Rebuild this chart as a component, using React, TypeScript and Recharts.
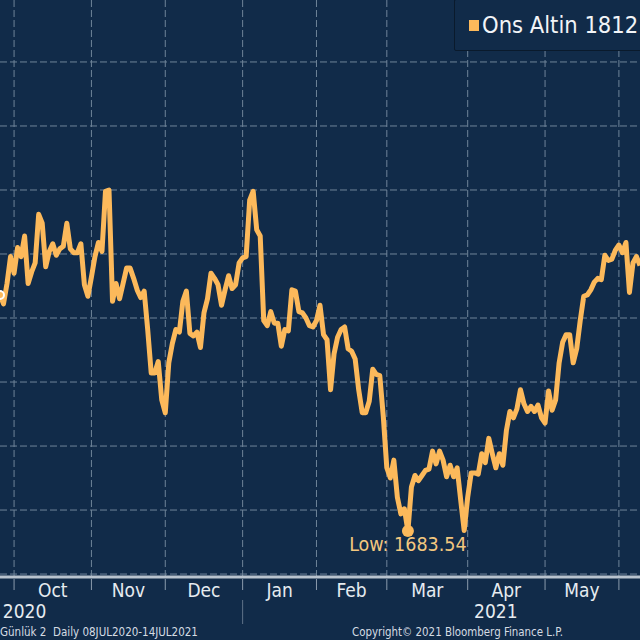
import { LineChart, Line, XAxis, YAxis, CartesianGrid, Legend, ReferenceDot } from "recharts";

const BG = "#112b49";
const GOLD = "#fcb95b";
const FONT = "'DejaVu Sans Condensed', 'DejaVu Sans', sans-serif";

// daily close (first visible day is late Sep 2020)
const prices = [
    1868, 1861, 1877, 1898, 1885, 1905, 1898, 1914, 1877, 1886, 1893, 1931, 1924, 1890, 1902, 1908,
    1899, 1904, 1906, 1924, 1904, 1901, 1901, 1908, 1876, 1867, 1882, 1898, 1909, 1902, 1949, 1950,
    1863, 1877, 1865, 1877, 1889, 1889, 1881, 1872, 1866, 1871, 1841, 1807, 1807, 1816, 1786, 1776,
    1815, 1830, 1841, 1839, 1863, 1871, 1838, 1836, 1839, 1827, 1854, 1865, 1885, 1881, 1876, 1860,
    1872, 1883, 1873, 1876, 1893, 1897, 1898, 1942, 1949, 1919, 1914, 1848, 1844, 1855, 1846, 1846,
    1828, 1841, 1840, 1872, 1871, 1855, 1854, 1850, 1844, 1843, 1848, 1860, 1837, 1833, 1794, 1822,
    1835, 1841, 1843, 1826, 1824, 1818, 1794, 1776, 1776, 1785, 1810, 1806, 1805, 1773, 1733, 1725,
    1739, 1710, 1697, 1701, 1683.54, 1718, 1727, 1723, 1727, 1731, 1732, 1746, 1736, 1746, 1739, 1726,
    1735, 1726, 1733, 1708, 1684, 1710, 1729, 1729, 1728, 1744, 1737, 1756, 1744, 1733, 1744, 1735,
    1762, 1777, 1772, 1779, 1794, 1783, 1777, 1781, 1777, 1782, 1772, 1768, 1793, 1778, 1786, 1815,
    1831, 1837, 1837, 1815, 1826, 1848, 1867, 1868, 1872, 1878, 1881, 1880, 1899, 1895, 1896, 1903,
    1907, 1901, 1909, 1870, 1893, 1898, 1891,
];

const months = ["Oct", "Nov", "Dec", "Jan", "Feb", "Mar", "Apr", "May"];
// trading day index of the first day of each month
const monthStarts = [4, 26, 47, 69, 90, 110, 133, 155, 176];
const priceTicks = [1650, 1700, 1750, 1800, 1850, 1900, 1950, 2000, 2050];
const lowIndex = 116;
const lowValue = 1683.54;
const yearBreak = 69;
const yearLabels: Record<number, string> = { 7: "2020", 141: "2021" };

const data = prices.map((price, day) => ({ day, price }));
const monthLabels: Record<number, string> = {};
months.forEach((m, i) => {
    monthLabels[(monthStarts[i] + monthStarts[i + 1]) / 2] = m;
});
const monthTicks = [...monthStarts, ...Object.keys(monthLabels).map(Number)].sort((a, b) => a - b);

function MonthTick({ x, y, payload }: any) {
    const label = monthLabels[payload.value];
    if (label) {
        return (
            <text x={x} y={y + 12} textAnchor="middle" fill="#e6ebf0" fontSize={19} fontFamily={FONT}>
                {label}
            </text>
        );
    }
    return <line x1={x} x2={x} y1={y - 6} y2={y + 5} stroke="#8b9bac" strokeWidth={1} />;
}

function YearTick({ x, y, payload }: any) {
    if (payload.value === yearBreak) {
        return <line x1={x} x2={x} y1={y - 10} y2={y + 14} stroke="#5f7389" strokeWidth={1} />;
    }
    return (
        <text x={x} y={y + 8} textAnchor="middle" fill="#e6ebf0" fontSize={19} fontFamily={FONT}>
            {yearLabels[payload.value]}
        </text>
    );
}

function LegendBox() {
    return (
        <div
            style={{
                position: "absolute",
                left: 454,
                top: -1,
                width: 200,
                height: 50,
                background: BG,
                border: "1px solid #0a1a2c",
                borderRadius: 2,
                display: "flex",
                alignItems: "center",
                color: "#f2f4f7",
                fontFamily: FONT,
                fontSize: 23.5,
                whiteSpace: "nowrap",
            }}
        >
            <span style={{ width: 10, height: 11, background: GOLD, margin: "0 3px 0 14px" }} />
            Ons Altin 1812
        </div>
    );
}

export default function App() {
    return (
        <div style={{ position: "absolute", left: 0, top: 0, width: 640, height: 640, background: BG, overflow: "hidden" }}>
            <LineChart width={640} height={640} data={data} margin={{ top: 0, right: 0, bottom: 15, left: 0 }}>
                <CartesianGrid
                    stroke="#6f8499"
                    strokeWidth={1}
                    strokeDasharray="7 3"
                    horizontalValues={priceTicks}
                    verticalValues={monthStarts}
                />
                <XAxis
                    dataKey="day"
                    type="number"
                    domain={[0, prices.length - 1]}
                    ticks={monthTicks}
                    interval={0}
                    height={25}
                    tickLine={false}
                    tick={<MonthTick />}
                    axisLine={{ stroke: "#b9c3ce", strokeWidth: 3 }}
                />
                <XAxis
                    xAxisId="year"
                    dataKey="day"
                    type="number"
                    domain={[0, prices.length - 1]}
                    ticks={[7, yearBreak, 141]}
                    interval={0}
                    height={23}
                    tickLine={false}
                    axisLine={false}
                    tick={<YearTick />}
                />
                <YAxis hide type="number" domain={[1647.7, 2098.4]} ticks={priceTicks} allowDataOverflow />
                <Line
                    dataKey="price"
                    stroke={GOLD}
                    strokeWidth={5}
                    strokeLinejoin="round"
                    dot={false}
                    isAnimationActive={false}
                />
                <ReferenceDot
                    x={lowIndex}
                    y={lowValue}
                    r={6}
                    fill={GOLD}
                    stroke="none"
                    label={{ value: "Low: 1683.54", position: "bottom", offset: 0, fill: "#f3c77f", fontSize: 19.5, fontFamily: FONT }}
                />
                <Legend content={() => <LegendBox />} wrapperStyle={{ position: "absolute", left: 0, top: 0, width: 0, height: 0 }} />
            </LineChart>
            <div style={{ position: "absolute", left: 0, top: 625, fontFamily: FONT, fontSize: 11.5, color: "#d5dce3", whiteSpace: "pre" }}>
                Günlük 2  Daily 08JUL2020-14JUL2021
            </div>
            <div style={{ position: "absolute", left: 352, top: 625, fontFamily: FONT, fontSize: 11.4, color: "#d5dce3", whiteSpace: "pre" }}>
                Copyright© 2021 Bloomberg Finance L.P.
            </div>
        </div>
    );
}
